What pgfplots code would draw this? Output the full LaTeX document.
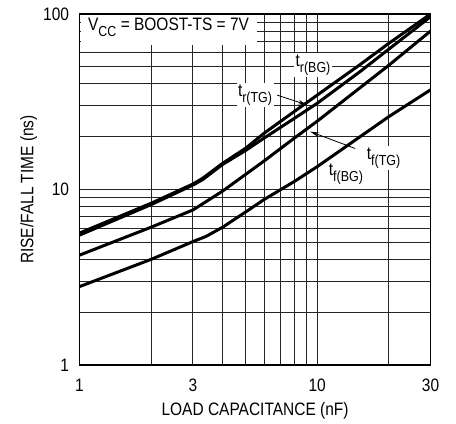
\documentclass[border=0pt]{standalone}
\usepackage{fontspec}
\setmainfont{Liberation Sans}[FakeStretch=0.86]
\usepackage{pgfplots}
\pgfplotsset{compat=1.18}
\usetikzlibrary{arrows.meta}

\tikzset{curve/.style={black, line width=3pt, line join=round, no markers}}
% large, lowered subscript as in the data sheet
\newcommand\sub[1]{\raisebox{-6pt}{\fontsize{14.5}{15}\selectfont #1}}

\begin{document}
\begin{tikzpicture}
\begin{loglogaxis}[
    scale only axis,
    width=351pt, height=351pt,
    xmin=1, xmax=30, ymin=1, ymax=100,
    xtick={1,3,10,30}, xticklabels={1,3,10,30},
    ytick={1,10,100}, yticklabels={1,10,100},
    minor xtick={2,4,5,6,7,8,9,20},
    minor ytick={2,3,...,9,20,30,...,90},
    grid=both,
    major grid style={black!85, line width=0.9pt},
    minor grid style={black!85, line width=0.9pt},
    major tick length=0pt, minor tick length=0pt,
    axis line style={line width=1.5pt},
    font=\fontsize{18}{20}\selectfont,
    xticklabel style={yshift=-10pt},
    yticklabel style={xshift=-7pt},
    xlabel={LOAD CAPACITANCE (nF)},
    ylabel={RISE/FALL TIME (ns)},
    xlabel style={at={(rel axis cs:0.5,-0.1425)}, anchor=base},
    ylabel style={at={(rel axis cs:-0.1316,0.5)}, anchor=base},
]

% t_r(BG)
\addplot[curve] coordinates {(1,5.65) (2,8.35) (3,10.75) (3.3,11.6) (4,14.1) (5,17.2)
    (6,21) (8,27.8) (10,34.5) (15,51) (20,68) (30,100)};
% t_r(TG)
\addplot[curve] coordinates {(1,5.5) (2,8.2) (3,10.6) (3.3,11.4) (4,13.9) (5,16.7)
    (6,19.7) (8,25.4) (10,31) (15,46.5) (20,63) (30,96.5)};
% t_f(TG)
\addplot[curve] coordinates {(1,4.23) (2,6.1) (3,7.65) (3.3,8.3) (4,9.8) (5,12.2)
    (6,14.6) (8,19.6) (10,24.5) (20,51) (30,80)};
% t_f(BG)
\addplot[curve] coordinates {(1,2.8) (2,4.0) (3,5.05) (3.4,5.4) (4,6.1) (5,7.45)
    (6,8.8) (8,11.1) (10,13.5) (20,26) (30,37)};

% condition box
\fill[white] (rel axis cs:0.004,0.912) rectangle (rel axis cs:0.506,0.996);
\node[anchor=west, inner sep=0pt] at (rel axis cs:0.024,0.962)
    {V\sub{CC} = BOOST-TS = 7V};

% curve labels
\node[fill=white, inner sep=1.5pt] at (rel axis cs:0.665,0.855) {t\sub{r(BG)}};
\node[fill=white, inner sep=1.5pt] at (rel axis cs:0.500,0.769) {t\sub{r(TG)}};
\node[fill=white, inner sep=1.5pt] at (rel axis cs:0.866,0.590) {t\sub{f(TG)}};
\node[fill=white, inner sep=1.5pt] at (rel axis cs:0.759,0.545) {t\sub{f(BG)}};

\draw[-{Stealth[length=9pt,width=4.5pt]}, line width=0.8pt]
    (rel axis cs:0.563,0.769) -- (rel axis cs:0.648,0.741);
\draw[-{Stealth[length=9pt,width=4.5pt]}, line width=0.8pt]
    (rel axis cs:0.785,0.617) -- (rel axis cs:0.657,0.665);

\end{loglogaxis}
\path ([xshift=-79.5pt,yshift=-58pt]current axis.south west)
    rectangle ([xshift=25.4pt,yshift=14pt]current axis.north east);
\end{tikzpicture}
\end{document}
